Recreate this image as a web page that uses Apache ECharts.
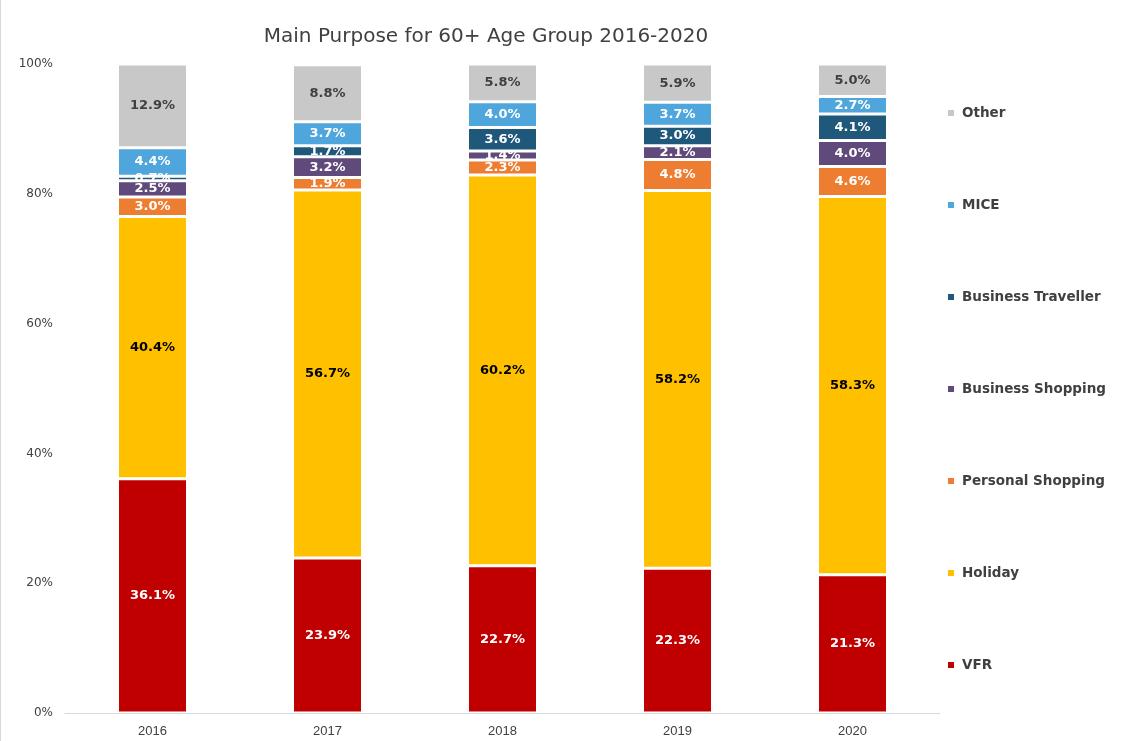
<!DOCTYPE html>
<html><head><meta charset="utf-8">
<script src="https://cdn.jsdelivr.net/npm/echarts@6/dist/echarts.min.js"></script>
<style>html,body{margin:0;padding:0;background:#fff}#c{width:1138px;height:741px;box-sizing:border-box;border-left:1px solid #d9d9d9}</style>
</head><body><div id="c"></div>
<script>
const years = ['2016','2017','2018','2019','2020'];
const VFR = [36.1, 23.9, 22.7, 22.3, 21.3];
const Holiday = [40.4, 56.7, 60.2, 58.2, 58.3];
const PersonalShopping = [3.0, 1.9, 2.3, 4.8, 4.6];
const BusinessShopping = [2.5, 3.2, 1.4, 2.1, 4.0];
const BusinessTraveller = [0.7, 1.7, 3.6, 3.0, 4.1];
const MICE = [4.4, 3.7, 4.0, 3.7, 2.7];
const Other = [12.9, 8.8, 5.8, 5.9, 5.0];
const yTicks = [0, 20, 40, 60, 80, 100];

const font = 'DejaVu Sans';
const defs = [
  ['VFR', VFR, '#C00000', '#ffffff'],
  ['Holiday', Holiday, '#FFC000', '#000000'],
  ['Personal Shopping', PersonalShopping, '#ED7D31', '#ffffff'],
  ['Business Shopping', BusinessShopping, '#604A7B', '#ffffff'],
  ['Business Traveller', BusinessTraveller, '#1F587A', '#ffffff'],
  ['MICE', MICE, '#4EA6DC', '#ffffff'],
  ['Other', Other, '#C8C8C8', '#404040']
];
const series = defs.map(d => ({
  name: d[0], type: 'bar', stack: 'a', barWidth: 70,
  data: d[1],
  itemStyle: { color: d[2], borderColor: '#fff', borderWidth: 1.5 },
  label: { show: true, position: 'inside', formatter: p => p.value.toFixed(1) + '%',
    color: d[3], fontFamily: font, fontWeight: 'bold', fontSize: 13 }
}));
const chart = echarts.init(document.getElementById('c'));
chart.setOption({
  animation: false,
  title: { text: 'Main Purpose for 60+ Age Group 2016-2020', left: 480, top: 22, textAlign: 'center',
    textStyle: { fontFamily: font, fontSize: 20, fontWeight: 'normal', color: '#404040' } },
  grid: { left: 64, right: 198, top: 64, bottom: 28 },
  legend: { orient: 'vertical', left: 940, top: 101, itemGap: 78, itemWidth: 8, itemHeight: 8, icon: 'rect',
    data: ['Other','MICE','Business Traveller','Business Shopping','Personal Shopping','Holiday','VFR'],
    textStyle: { fontFamily: font, fontWeight: 'bold', fontSize: 13.5, color: '#404040', padding: [0, 0, 0, 2] } },
  xAxis: { type: 'category', data: years,
    axisLine: { lineStyle: { color: '#d9d9d9' } }, axisTick: { show: false },
    axisLabel: { color: '#404040', fontFamily: 'Liberation Sans', fontSize: 13, margin: 12 } },
  yAxis: { type: 'value', min: 0, max: 100, interval: 20,
    splitLine: { show: false }, axisLine: { show: false }, axisTick: { show: false },
    axisLabel: { formatter: v => yTicks.includes(v) ? v + '%' : '', color: '#404040', fontFamily: font, fontSize: 12, margin: 12 } },
  series: series
});
</script></body></html>
